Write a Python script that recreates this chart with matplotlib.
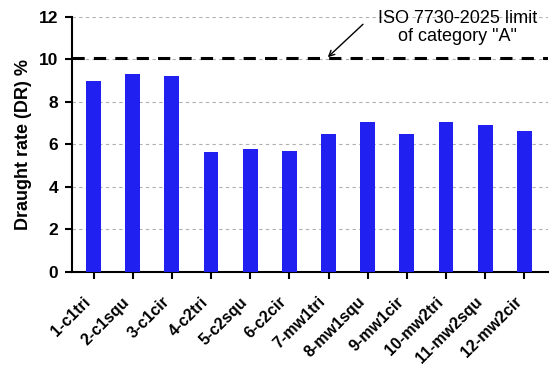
import numpy as np
import matplotlib.pyplot as plt

plt.rcParams['font.family'] = ['Liberation Sans', 'DejaVu Sans']

# data
cases = ['1-c1tri', '2-c1squ', '3-c1cir', '4-c2tri', '5-c2squ', '6-c2cir',
         '7-mw1tri', '8-mw1squ', '9-mw1cir', '10-mw2tri', '11-mw2squ', '12-mw2cir']
dr = [9.0, 9.32, 9.2, 5.64, 5.79, 5.71, 6.47, 7.07, 6.47, 7.07, 6.91, 6.63]
limit_A = 10.05

fig = plt.figure(figsize=(5.5, 3.74), dpi=100)
ax = fig.add_axes([0.131, 0.273, 0.865, 0.682])

x = np.arange(len(cases))
ax.bar(x, dr, width=0.38, color='#2020F0', zorder=3)
ax.axhline(limit_A, color='black', lw=2.2, ls=(0, (4, 3)), zorder=4)

ax.set_xlim(-0.55, 11.6)
ax.set_ylim(0, 12)
ax.set_yticks(range(0, 13, 2))
ax.grid(axis='y', color='#b0b0b0', ls=(0, (3, 3)), lw=0.8, zorder=0)

for s in ['top', 'right']:
    ax.spines[s].set_visible(False)
for s in ['left', 'bottom']:
    ax.spines[s].set_linewidth(1.5)

ax.set_xticks(x)
ax.set_xticklabels(cases, rotation=45, ha='right', fontsize=11.5, fontweight='bold')
for t in ax.get_xticklabels():
    t.set_x(t.get_position()[0] + 0.08)
ax.tick_params(axis='y', labelsize=12.5, width=1.5, length=5, pad=5)
ax.tick_params(axis='x', width=1.5, length=5, pad=11)
for t in ax.get_yticklabels():
    t.set_fontweight('bold')
ax.set_ylabel('Draught rate (DR) %', fontsize=13, fontweight='bold', labelpad=5)

ax.text(9.3, 11.5, 'ISO 7730-2025 limit\nof category "A"', ha='center', va='center',
        fontsize=13, linespacing=1.05)
ax.annotate('', xy=(5.98, limit_A + 0.05), xytext=(6.88, 11.65),
            arrowprops=dict(arrowstyle='->', color='black', lw=1.0,
                            shrinkA=0, shrinkB=0))

fig.savefig('out.png', dpi=100)
